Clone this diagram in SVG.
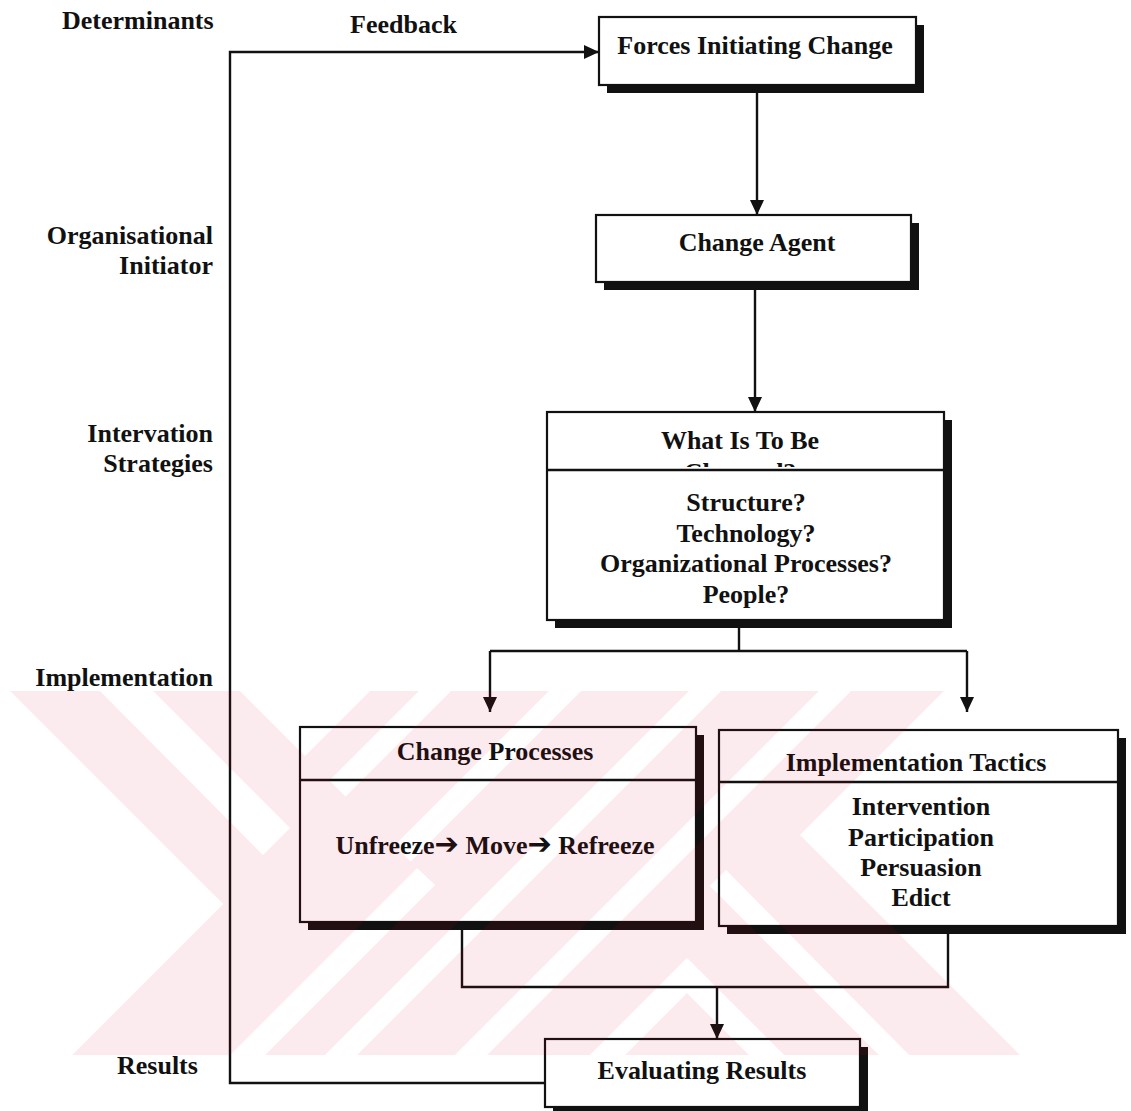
<svg xmlns="http://www.w3.org/2000/svg" width="1131" height="1111" viewBox="0 0 1131 1111">
<defs>
<style>
text{font-family:"Liberation Serif","Times New Roman",serif;font-weight:bold;font-size:26px;fill:#111}
.c{text-anchor:middle}
.e{text-anchor:end}
.box{fill:#fff;stroke:#111;stroke-width:2.2}
.sh{fill:#111}
.ln{fill:none;stroke:#111;stroke-width:2.4}
.dv{stroke:#111;stroke-width:2.4}
.ar{font-family:"DejaVu Sans",sans-serif;font-size:29px}
</style>
<marker id="ah" viewBox="0 0 15 14" markerWidth="15" markerHeight="14" refX="15" refY="7" orient="auto" markerUnits="userSpaceOnUse"><path d="M0,0 L15,7 L0,14 z" fill="#111"/></marker>
<clipPath id="clipChg"><rect x="548" y="440" width="395" height="27"/></clipPath>
<mask id="wm" maskUnits="userSpaceOnUse" x="0" y="0" width="1131" height="1111">
<polygon fill="#fff" points="10,691 944,691 800,835 1020,1055 10,1055"/>
<g fill="#000">
<polygon points="419,691 451,691 87,1055 55,1055"/>
<polygon points="549,691 581,691 217,1055 185,1055"/>
<polygon points="230,1055 417,868 435,885 265,1055"/>
<polygon points="689,691 721,691 357,1055 325,1055"/>
<polygon points="819,691 851,691 487,1055 455,1055"/>
<polygon points="590,1055 687,958 784,1055 749,1055 687,993 625,1055"/>
<polygon points="710,886 726,870 909,1055 879,1055"/>
</g>
<polygon fill="#fff" points="10,691 240,691 417,868 230,1055 72,1055 223,904"/>
<g fill="#000">
<polygon points="10,691 223,904 72,1055 10,1055"/>
<polygon points="100,691 153,691 290,828 263,855"/>
<polygon points="240,691 370,691 305,756"/>
</g>
</mask>
</defs>
<rect width="1131" height="1111" fill="#fff"/>

<g id="labels">
<text x="62" y="29">Determinants</text>
<text x="350" y="33">Feedback</text>
<text class="e" x="213" y="244">Organisational</text>
<text class="e" x="213" y="274">Initiator</text>
<text class="e" x="213" y="442">Intervation</text>
<text class="e" x="213" y="472">Strategies</text>
<text class="e" x="213" y="686">Implementation</text>
<text x="117" y="1074">Results</text>
</g>

<g id="connectors">
<polyline class="ln" points="545,1083 230,1083 230,52 599,52" marker-end="url(#ah)"/>
<line class="ln" x1="757" y1="85" x2="757" y2="215" marker-end="url(#ah)"/>
<line class="ln" x1="755" y1="282" x2="755" y2="412" marker-end="url(#ah)"/>
<line class="ln" x1="739" y1="620" x2="739" y2="651"/>
<line class="ln" x1="490" y1="651" x2="967" y2="651"/>
<line class="ln" x1="490" y1="651" x2="490" y2="712" marker-end="url(#ah)"/>
<line class="ln" x1="967" y1="651" x2="967" y2="712" marker-end="url(#ah)"/>
<polyline class="ln" points="462,922 462,987 948,987 948,926"/>
<line class="ln" x1="717" y1="987" x2="717" y2="1039" marker-end="url(#ah)"/>
</g>

<g id="forces">
<rect class="sh" x="607" y="25" width="317" height="68"/>
<rect class="box" x="599" y="17" width="317" height="68"/>
<text class="c" x="755" y="54">Forces Initiating Change</text>
</g>

<g id="agent">
<rect class="sh" x="604" y="223" width="315" height="67"/>
<rect class="box" x="596" y="215" width="315" height="67"/>
<text class="c" x="757" y="251">Change Agent</text>
</g>

<g id="what">
<rect class="sh" x="555" y="420" width="397" height="208"/>
<rect class="box" x="547" y="412" width="397" height="208"/>
<line class="dv" x1="547" y1="470" x2="944" y2="470"/>
<text class="c" x="740" y="449">What Is To Be</text>
<text class="c" x="740" y="481" clip-path="url(#clipChg)">Changed?</text>
<text class="c" x="746" y="511">Structure?</text>
<text class="c" x="746" y="542">Technology?</text>
<text class="c" x="746" y="572">Organizational Processes?</text>
<text class="c" x="746" y="603">People?</text>
</g>

<g id="processes">
<rect class="sh" x="308" y="735" width="396" height="195"/>
<rect class="box" x="300" y="727" width="396" height="195"/>
<line class="dv" x1="300" y1="780" x2="696" y2="780"/>
<text class="c" x="495" y="760">Change Processes</text>
<text class="c" x="495" y="854">Unfreeze<tspan class="ar">➔</tspan> Move<tspan class="ar">➔</tspan> Refreeze</text>
</g>

<g id="tactics">
<rect class="sh" x="727" y="738" width="399" height="196"/>
<rect class="box" x="719" y="730" width="399" height="196"/>
<line class="dv" x1="719" y1="782" x2="1118" y2="782"/>
<text class="c" x="916" y="771">Implementation Tactics</text>
<text class="c" x="921" y="815">Intervention</text>
<text class="c" x="921" y="846">Participation</text>
<text class="c" x="921" y="876">Persuasion</text>
<text class="c" x="921" y="906">Edict</text>
</g>

<g id="evaluating">
<rect class="sh" x="553" y="1047" width="315" height="68"/>
<rect class="box" x="545" y="1039" width="315" height="68"/>
<text class="c" x="702" y="1079">Evaluating Results</text>
</g>

<rect id="watermark" x="0" y="680" width="1131" height="400" fill="#e0002a" opacity="0.075" mask="url(#wm)"/>
</svg>
